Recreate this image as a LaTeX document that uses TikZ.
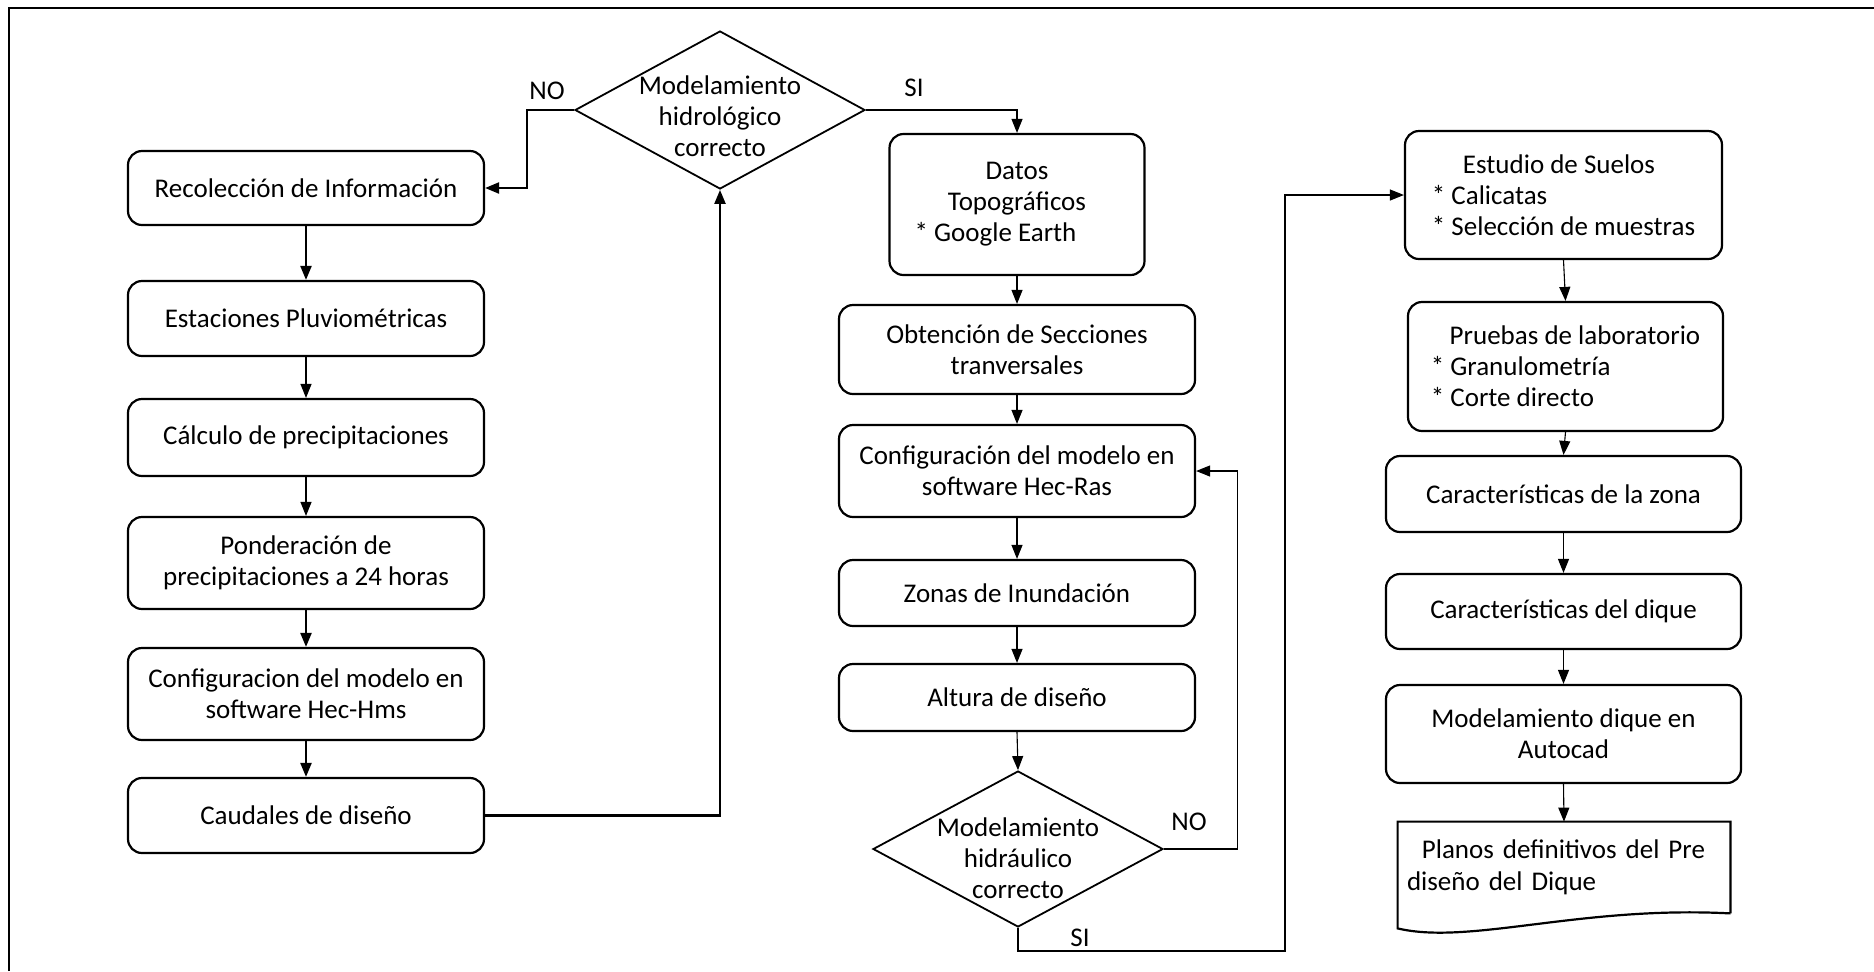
\documentclass[tikz,border=0pt]{standalone}
\usepackage{fontspec}
\setmainfont{Carlito}
\usetikzlibrary{arrows.meta,shapes.geometric,calc}
\begin{document}
\begin{tikzpicture}[x=0.5pt,y=-0.5pt,
  every node/.style={font=\fontsize{13.5pt}{15.5pt}\selectfont},
  box/.style={draw, rounded corners=7pt, line width=1.1pt, align=center, inner sep=2pt},
  dia/.style={draw, diamond, line width=0.9pt, inner sep=0pt},
  dtext/.style={align=center, inner sep=0pt},
  lbl/.style={inner sep=0pt},
  conn/.style={line width=0.55pt, -{Triangle[length=7pt,width=5.5pt]}},
  connthick/.style={line width=1.1pt, -{Triangle[length=7pt,width=5.5pt]}},
  doc/.style={line width=1.1pt, line join=miter}
]
\useasboundingbox (0,0) rectangle (1874,971);
\draw[line width=1pt] (9,971) -- (9,8) -- (1874,8);

% left column
\node[box, minimum width=178pt, minimum height=37pt] (rec) at (306,188) {Recolección de Información};
\node[box, minimum width=178pt, minimum height=37.5pt] (est) at (306,318.5) {Estaciones Pluviométricas};
\node[box, minimum width=178pt, minimum height=38.5pt] (calc) at (306,437.5) {Cálculo de precipitaciones};
\node[box, minimum width=178pt, minimum height=46pt] (pond) at (306,563) {Ponderación de\\precipitaciones a 24 horas};
\node[box, minimum width=178pt, minimum height=46pt] (conf) at (306,694) {Configuracion del modelo en\\software Hec-Hms};
\node[box, minimum width=178pt, minimum height=37.5pt] (caud) at (306,815.5) {Caudales de diseño};

% decision 1
\node[dia, minimum width=145pt, minimum height=79pt] (d1) at (720,110) {};
\node[dtext] (d1t) at (720,116) {Modelamiento\\hidrológico\\correcto};
\node[lbl] (no1) at (547,91) {NO};
\node[lbl] (si1) at (914,88) {SI};

% middle column
\node[box, minimum width=127.5pt, minimum height=70.5pt] (datos) at (1017,204.5) {Datos\\Topográficos\\\hspace*{0pt}* Google Earth\hspace*{21.5pt}};
\node[box, minimum width=178pt, minimum height=44.5pt] (obt) at (1017,349.5) {Obtención de Secciones\\tranversales};
\node[box, minimum width=178pt, minimum height=46pt] (hecras) at (1017,471) {Configuración del modelo en\\software Hec-Ras};
\node[box, minimum width=178pt, minimum height=33pt] (zonas) at (1017,593) {Zonas de Inundación};
\node[box, minimum width=178pt, minimum height=33.5pt] (altura) at (1017,697.5) {Altura de diseño};

% decision 2
\node[dia, minimum width=145pt, minimum height=78pt] (d2) at (1018,849) {};
\node[dtext] (d2t) at (1018,858) {Modelamiento\\hidráulico\\correcto};
\node[lbl] (no2) at (1189,822) {NO};
\node[lbl] (si2) at (1080,938) {SI};

% right column
\node[box, minimum width=158.5pt, minimum height=64pt, align=left] (estudio) at (1563.5,195) {\hspace*{1.15em}Estudio de Suelos\\* Calicatas\\* Selección de muestras};
\node[box, minimum width=157.5pt, minimum height=64.5pt, align=left] (pruebas) at (1565.5,366.5) {\hspace*{0.7em}Pruebas de laboratorio\\* Granulometría\\* Corte directo};
\node[box, minimum width=177.5pt, minimum height=38pt] (zona) at (1563.5,494) {Características de la zona};
\node[box, minimum width=177.5pt, minimum height=37.5pt] (dique) at (1563.5,611.5) {Características del dique};
\node[box, minimum width=177.5pt, minimum height=49pt] (modelo) at (1563.5,734) {Modelamiento dique en\\Autocad};
\node[minimum width=166pt, minimum height=45.5pt, text width=157pt, inner xsep=4.5pt, align=left, font=\fontsize{13.5pt}{16pt}\selectfont] (planos) at (1564,867.5) {\hspace*{0.55em}Planos definitivos del Pre\\diseño del Dique};
\draw[doc] (planos.south east) -- (planos.north east) -- (planos.north west) -- ($(planos.south west)+(0,15)$)
  .. controls ($(planos.south west)+(72,32)$) and ($(planos.south east)+(-150,-8)$) .. (planos.south east);

% connectors left
\draw[connthick] (rec.south) -- (est.north);
\draw[conn] (est.south) -- (calc.north);
\draw[conn] (calc.south) -- (pond.north);
\draw[connthick] (pond.south) -- (conf.north);
\draw[connthick] (conf.south) -- (caud.north);
\draw[connthick] (caud.east) -| (d1.south);
\draw[connthick] (d1.west) -- ++(-47,0) |- (rec.east);
\draw[conn] (d1.east) -| (datos.north);

% connectors middle
\draw[conn] (datos.south) -- (obt.north);
\draw[conn] (obt.south) -- (hecras.north);
\draw[conn] (hecras.south) -- (zonas.north);
\draw[conn] (zonas.south) -- (altura.north);
\draw[conn] (altura.south) -- (d2.north);
\draw[conn] (d2.east) -- ++(74,0) |- (hecras.east);
\coordinate (siturn) at (1285,951);
\draw[conn] (d2.south) |- (siturn) |- (estudio.west);

% connectors right
\draw[conn] (estudio.south) -- (pruebas.north);
\draw[conn] (pruebas.south) -- (zona.north);
\draw[conn] (zona.south) -- (dique.north);
\draw[conn] (dique.south) -- (modelo.north);
\draw[conn] (modelo.south) -- (planos.north);
\end{tikzpicture}
\end{document}
